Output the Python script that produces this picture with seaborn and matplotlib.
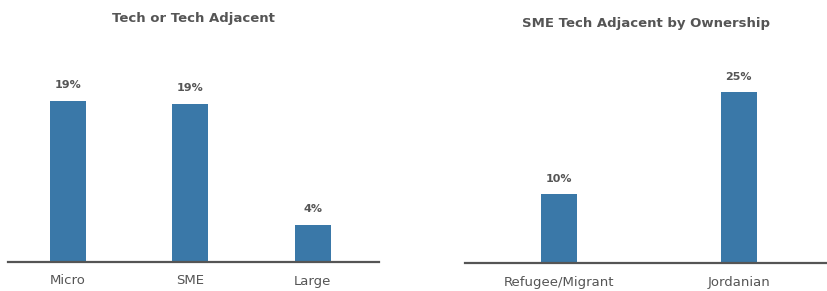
import matplotlib
matplotlib.use("Agg")
import matplotlib.pyplot as plt
import seaborn as sns
import pandas as pd

# data
size_labels = ["Micro", "SME", "Large"]
size_values = [19.0, 18.6, 4.4]

owner_labels = ["Refugee/Migrant", "Jordanian"]
owner_values = [10.1, 25.0]

BAR = "#3a78a8"
TXT = "#555555"

sns.set_theme(style="white")
plt.rcParams["font.family"] = ["DejaVu Sans"]

fig = plt.figure(figsize=(8.28, 2.91), dpi=100)
ax1 = fig.add_axes([8 / 828, 29 / 291, 371 / 828, 222 / 291])
ax2 = fig.add_axes([465 / 828, 27.7 / 291, 362 / 828, 223.3 / 291])


def draw(ax, labels, values, title, width, ylim, xlim, title_pad, lbl_pad):
    df = pd.DataFrame({"cat": labels, "val": values})
    sns.barplot(data=df, x="cat", y="val", hue="cat", palette=[BAR] * len(labels),
                width=width, legend=False, ax=ax, saturation=1, linewidth=0)
    for c in ax.containers:
        ax.bar_label(c, labels=[f"{v:.0f}%" for v in c.datavalues], padding=lbl_pad,
                     fontsize=8, fontweight="bold", color=TXT)
    ax.set_ylim(0, ylim)
    ax.set_xlim(*xlim)
    ax.set_xlabel("")
    ax.set_ylabel("")
    ax.set_yticks([])
    ax.tick_params(axis="x", length=0, pad=9, labelsize=9.5, labelcolor=TXT)
    for s in ["top", "right", "left"]:
        ax.spines[s].set_visible(False)
    ax.spines["bottom"].set_color(TXT)
    ax.spines["bottom"].set_linewidth(1.6)
    ax.set_title(title, fontsize=9.5, fontweight="bold", color=TXT, pad=title_pad)


draw(ax1, size_labels, size_values, "Tech or Tech Adjacent", 0.295, 26.2, (-0.49, 2.54), 13, 8)
draw(ax2, owner_labels, owner_values, "SME Tech Adjacent by Ownership", 0.2, 32.5, (-0.52, 1.49), 9, 7)

fig.savefig("out.png", dpi=100)
